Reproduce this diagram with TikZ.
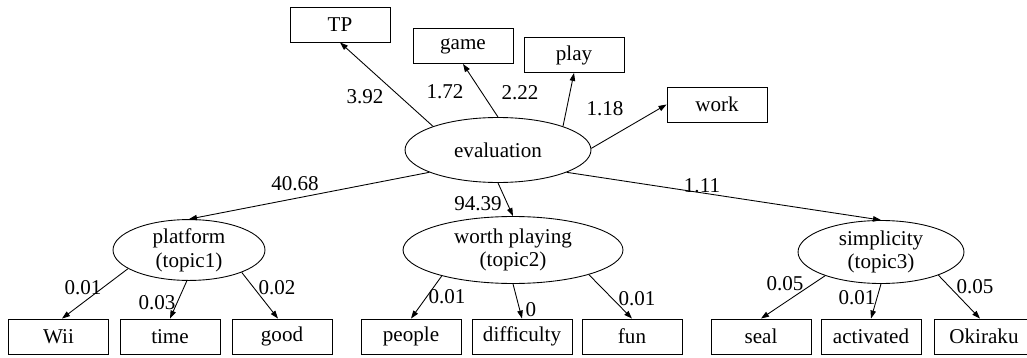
\documentclass[tikz,border=0pt]{standalone}
\usepackage{fontspec}
\setmainfont{Liberation Serif}
\usetikzlibrary{arrows.meta,shapes.geometric}

\tikzset{
    word/.style = {draw, rectangle, line width = 0.5pt, minimum width = 2cm, minimum height = 0.7cm, inner sep = 0pt},
    topic/.style = {draw, ellipse, line width = 0.5pt, inner sep = 0pt, align = center},
    arr/.style = {-{Triangle[length = 1.6mm, width = 1.1mm]}, line width = 0.5pt},
    weight/.style = {inner sep = 0pt}
}

\begin{document}
\begin{tikzpicture}[x = 0.02cm, y = -0.02cm, font = \fontsize{12}{13.5}\selectfont]
        \useasboundingbox (0,0) rectangle (1027,358);

        % top level
        \node[topic, minimum width = 3.72cm, minimum height = 1.3cm] (eval) at (498,150) {evaluation};
        \node[word] (tp) at (340,24.5) {TP};
        \node[word] (game) at (463,46) {game};
        \node[word] (play) at (574,55) {play};
        \node[word] (work) at (717,104.5) {work};

        % topics
        \node[topic, minimum width = 3.04cm, minimum height = 1.2cm] (t1) at (189,250) {platform\\(topic1)};
        \node[topic, minimum width = 4.4cm, minimum height = 1.34cm] (t2) at (513,250) {worth playing\\(topic2)};
        \node[topic, minimum width = 3.32cm, minimum height = 1.26cm] (t3) at (881,252) {simplicity\\(topic3)};

        % words
        \node[word] (wii) at (58.5,336.5) {Wii};
        \node[word] (time) at (170,336.5) {time};
        \node[word] (good) at (282,336.5) {good};
        \node[word] (people) at (411,336.5) {people};
        \node[word] (diff) at (522,336.5) {difficulty};
        \node[word] (fun) at (632,336.5) {fun};
        \node[word] (seal) at (761,336.5) {seal};
        \node[word] (act) at (871,336.5) {activated};
        \node[word] (oki) at (984,336.5) {Okiraku};

        \draw[arr] (eval.160) -- (tp.south);
        \draw[arr] (eval.90) -- (game.south);
        \draw[arr] (eval.20) -- (play.south);
        \draw[arr] (eval.1) -- (work.west);
        \draw[arr] (eval.198) -- (t1.north);
        \draw[arr] (eval.270) -- (t2.north);
        \draw[arr] (eval.342) -- (t3.north);

        \draw[arr] (t1.197) -- ([xshift = 0.07cm] wii.north);
        \draw[arr] (t1.266) -- (time.north);
        \draw[arr] (t1.337) -- ([xshift = -0.08cm] good.north);
        \draw[arr] (t2.200) -- (people.north);
        \draw[arr] (t2.270) -- (diff.north);
        \draw[arr] (t2.342) -- (fun.north);
        \draw[arr] (t3.203) -- (seal.north);
        \draw[arr] (t3.270) -- (act.north);
        \draw[arr] (t3.338) -- ([xshift = -0.08cm] oki.north);

        \node[weight] (w1) at (365,97) {3.92};
        \node[weight] (w2) at (445,92) {1.72};
        \node[weight] (w3) at (520,93) {2.22};
        \node[weight] (w4) at (605,109) {1.18};
        \node[weight] (w5) at (295,184) {40.68};
        \node[weight] (w6) at (478,204) {94.39};
        \node[weight] (w7) at (702,186) {1.11};
        \node[weight] (w8) at (83,288) {0.01};
        \node[weight] (w9) at (157,303) {0.03};
        \node[weight] (w10) at (277,288) {0.02};
        \node[weight] (w11) at (447,297) {0.01};
        \node[weight] (w12) at (531,310) {0};
        \node[weight] (w13) at (637,299) {0.01};
        \node[weight] (w14) at (785,284) {0.05};
        \node[weight] (w15) at (857,298) {0.01};
        \node[weight] (w16) at (975,287) {0.05};
\end{tikzpicture}
\end{document}
